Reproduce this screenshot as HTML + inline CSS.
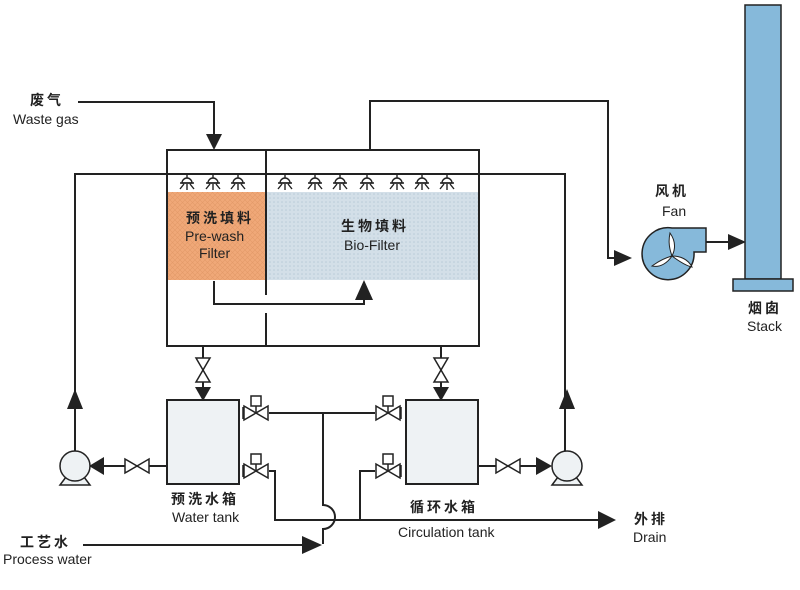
<!DOCTYPE html>
<html><head><meta charset="utf-8"><style>
body{margin:0;background:#fff;}
svg{display:block;}
text{font-family:"Liberation Sans","Noto Sans CJK SC",sans-serif;fill:#222;}
.cn{font-weight:bold;font-size:14px;letter-spacing:3px;}
.en{font-size:14px;}
</style></head><body>
<svg width="800" height="590" viewBox="0 0 800 590" xmlns="http://www.w3.org/2000/svg">
<defs>
<pattern id="dots" width="4" height="4" patternUnits="userSpaceOnUse"><rect width="4" height="4" fill="#d3dfe8"/><circle cx="2" cy="2" r="0.8" fill="#b9cbd8"/></pattern>
<pattern id="hatch" width="5" height="5" patternUnits="userSpaceOnUse"><rect width="5" height="5" fill="#f0a878"/><path d="M0 0L5 5M5 0L0 5" stroke="#e39a68" stroke-width="0.6"/></pattern>
<g id="noz" fill="none" stroke="#222" stroke-width="1.4"><path d="M0 -6V-2"/><path d="M-5 3A5 5 0 0 1 5 3Z" fill="#fff"/><path d="M-7 3H7M-7 9L-3 4M0 10V4M7 9L3 4"/></g>
<g id="mv" stroke="#222" stroke-width="1.5" fill="#fff"><path d="M-13 -6V6M-12 -7L12 7V-7L-12 7Z"/><path d="M0 0V-7"/><rect x="-5" y="-17" width="10" height="10"/></g>
<g id="vv" stroke="#222" stroke-width="1.5" fill="#fff"><path d="M-7 -12L7 12H-7L7 -12Z"/></g>
<g id="hv" stroke="#222" stroke-width="1.5" fill="#fff"><path d="M-12 -7L12 7V-7L-12 7Z"/></g>
</defs>
<g stroke="#222" stroke-width="2" fill="none">
<rect x="168" y="192" width="98" height="88" fill="url(#hatch)" stroke="none"/>
<rect x="267" y="192" width="211" height="88" fill="url(#dots)" stroke="none"/>
<rect x="167" y="150" width="312" height="196"/>
<path d="M266 150V295M266 313V346"/>
<path d="M75 452V174H565V452"/>
<path d="M78 102H214V140"/>
<path d="M370 150V101H608V258H628"/>
<path d="M706 242H730"/>
<path d="M214 281V304H364V296"/>
<rect x="167" y="400" width="72" height="84" fill="#eef2f4"/>
<rect x="406" y="400" width="72" height="84" fill="#eef2f4"/>
<path d="M203 346V392M441 346V392"/>
<path d="M269 413H375M323 413V505A12 12 0 0 1 323 529V544"/>
<path d="M269 471H275V520H600"/>
<path d="M375 471H360V520"/>
<path d="M83 545H306"/>
<path d="M167 466H99M478 466H540"/>
</g>
<g fill="#222">
<path d="M206 134H222L214 150Z"/>
<path d="M355 300L364 280L373 300Z"/>
<path d="M614 250L632 258L614 266Z"/>
<path d="M728 234L746 242L728 250Z"/>
<path d="M195 387H211L203 401Z"/><path d="M433 387H449L441 401Z"/>
<path d="M67 409L75 389L83 409Z"/><path d="M559 409L567 389L575 409Z"/>
<path d="M104 457L89 466L104 475Z"/><path d="M536 457L552 466L536 475Z"/>
<path d="M598 511L616 520L598 529Z"/>
<path d="M302 536L322 545L302 554Z"/>
</g>
<use href="#vv" x="203" y="370"/><use href="#vv" x="441" y="370"/>
<use href="#hv" x="137" y="466"/><use href="#hv" x="508" y="466"/>
<use href="#mv" x="256" y="413"/><use href="#mv" x="256" y="471"/>
<g transform="translate(388,413) scale(-1,1)"><use href="#mv"/></g>
<g transform="translate(388,471) scale(-1,1)"><use href="#mv"/></g>
<g stroke="#222" stroke-width="1.5" fill="#eef2f4">
<path d="M60 485L66 477H84L90 485Z"/><circle cx="75" cy="466" r="15"/>
<path d="M552 485L558 477H576L582 485Z"/><circle cx="567" cy="466" r="15"/>
</g>
<use href="#noz" x="187" y="180"/><use href="#noz" x="213" y="180"/><use href="#noz" x="238" y="180"/>
<use href="#noz" x="285" y="180"/><use href="#noz" x="315" y="180"/><use href="#noz" x="340" y="180"/><use href="#noz" x="367" y="180"/><use href="#noz" x="397" y="180"/><use href="#noz" x="422" y="180"/><use href="#noz" x="447" y="180"/>
<g stroke="#222" stroke-width="1.5">
<path d="M672 228H706V252H694A26 26 0 1 1 672 228Z" fill="#86b9da"/>
<path d="M672 256C668 245 669 238 670 233C675 240 676 248 672 256ZM672 256C661 259 655 264 652 266C661 268 668 262 672 256ZM672 256C680 262 687 266 692 267C688 259 680 256 672 256Z" fill="#fff" stroke-width="1"/>
<rect x="745" y="5" width="36" height="274" fill="#86b9da"/>
<rect x="733" y="279" width="60" height="12" fill="#86b9da"/>
</g>
<text x="186" y="223" class="cn">预洗填料</text><text x="185" y="241" class="en">Pre-wash</text><text x="199" y="258" class="en">Filter</text>
<text x="341" y="231" class="cn">生物填料</text><text x="344" y="250" class="en">Bio-Filter</text>
<text x="30" y="105" class="cn">废气</text><text x="13" y="124" class="en">Waste gas</text>
<text x="655" y="196" class="cn">风机</text><text x="662" y="216" class="en">Fan</text>
<text x="748" y="313" class="cn">烟囱</text><text x="747" y="331" class="en">Stack</text>
<text x="171" y="504" class="cn">预洗水箱</text><text x="172" y="522" class="en">Water tank</text>
<text x="410" y="512" class="cn">循环水箱</text><text x="398" y="537" class="en">Circulation tank</text>
<text x="634" y="524" class="cn">外排</text><text x="633" y="542" class="en">Drain</text>
<text x="20" y="547" class="cn">工艺水</text><text x="3" y="564" class="en">Process water</text>
</svg>
</body></html>
